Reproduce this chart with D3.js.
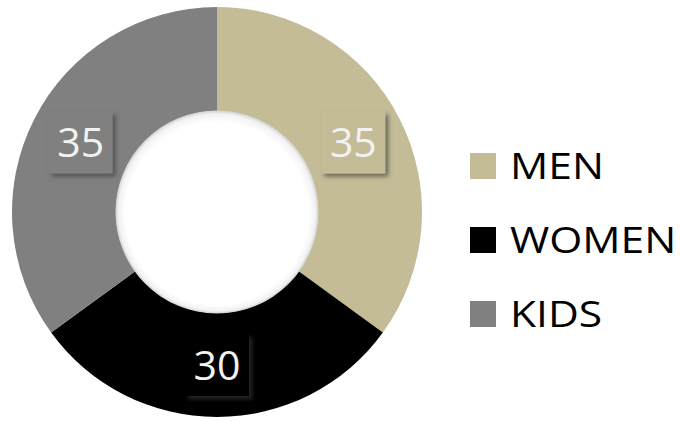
<!DOCTYPE html>
<html>
<head>
<meta charset="utf-8">
<script src="https://cdn.jsdelivr.net/npm/d3@7"></script>
<style>
  html, body { margin: 0; padding: 0; background: #fff; }
  svg { display: block; }
</style>
</head>
<body>
<svg id="donut" width="680" height="422"></svg>
<script>
const categories = ['MEN', 'WOMEN', 'KIDS'];
const values = [35, 30, 35];
const colors = ['#C4BC96', '#000000', '#808080'];

const svg = d3.select('#donut');
const width = +svg.attr('width');
const height = +svg.attr('height');

const cx = 217, cy = 212;
const outerR = 205, innerR = 101;

const data = categories.map((c, i) => ({ name: c, value: values[i] }));

const color = d3.scaleOrdinal()
  .domain(categories)
  .range(colors);

const defs = svg.append('defs');

// shadow for the little label boxes
const shadow = defs.append('filter')
  .attr('id', 'boxShadow')
  .attr('x', '-30%').attr('y', '-30%')
  .attr('width', '160%').attr('height', '160%');
shadow.append('feDropShadow')
  .attr('dx', 3).attr('dy', 3)
  .attr('stdDeviation', 2)
  .attr('flood-color', '#3a3a3a')
  .attr('flood-opacity', 0.65);

// soft inner shadow on the hole, a bit heavier on top
const hole = defs.append('radialGradient')
  .attr('id', 'holeShade')
  .attr('cx', '50%').attr('cy', '50%').attr('r', '50%')
  .attr('fx', '50%').attr('fy', '58%');
hole.append('stop').attr('offset', '90%').attr('stop-color', '#fff');
hole.append('stop').attr('offset', '97%').attr('stop-color', '#f2f2f2');
hole.append('stop').attr('offset', '100%').attr('stop-color', '#d0d0d0');

const pie = d3.pie()
  .sort(null)
  .value(d => d.value);

const arc = d3.arc()
  .innerRadius(innerR)
  .outerRadius(outerR);

const g = svg.append('g')
  .attr('transform', `translate(${cx}, ${cy})`);

const arcs = pie(data);

g.selectAll('path.slice')
  .data(arcs)
  .join('path')
  .attr('class', 'slice')
  .attr('d', arc)
  .attr('fill', d => color(d.data.name));

g.append('circle')
  .attr('r', innerR + 0.5)
  .attr('fill', 'url(#holeShade)');

// value labels in boxes
const labelW = 64, labelH = 62;
const labels = g.selectAll('g.label')
  .data(arcs)
  .join('g')
  .attr('class', 'label')
  .attr('transform', d => {
    const [x, y] = arc.centroid(d);
    return `translate(${x}, ${y})`;
  });

labels.append('rect')
  .attr('x', -labelW / 2)
  .attr('y', -labelH / 2)
  .attr('width', labelW)
  .attr('height', labelH)
  .attr('fill', d => color(d.data.name))
  .attr('filter', 'url(#boxShadow)');

labels.append('text')
  .attr('text-anchor', 'middle')
  .attr('dy', '0.36em')
  .attr('fill', '#F2F2F2')
  .style('font-family', 'Open Sans, sans-serif')
  .style('font-size', '41px')
  .text(d => d.data.value);

// legend
const legend = svg.append('g')
  .attr('transform', 'translate(470, 166)');

const row = legend.selectAll('g')
  .data(categories)
  .join('g')
  .attr('transform', (d, i) => `translate(0, ${i * 74})`);

row.append('rect')
  .attr('x', 0)
  .attr('y', -13)
  .attr('width', 26)
  .attr('height', 26)
  .attr('fill', d => color(d));

// text is a bit wider than Open Sans, so stretch it sideways
row.append('text')
  .attr('transform', 'translate(40, 0) scale(1.15, 1)')
  .attr('dy', '0.36em')
  .attr('fill', '#000')
  .style('font-family', 'Open Sans, sans-serif')
  .style('font-size', '37px')
  .text(d => d);
</script>
</body>
</html>
